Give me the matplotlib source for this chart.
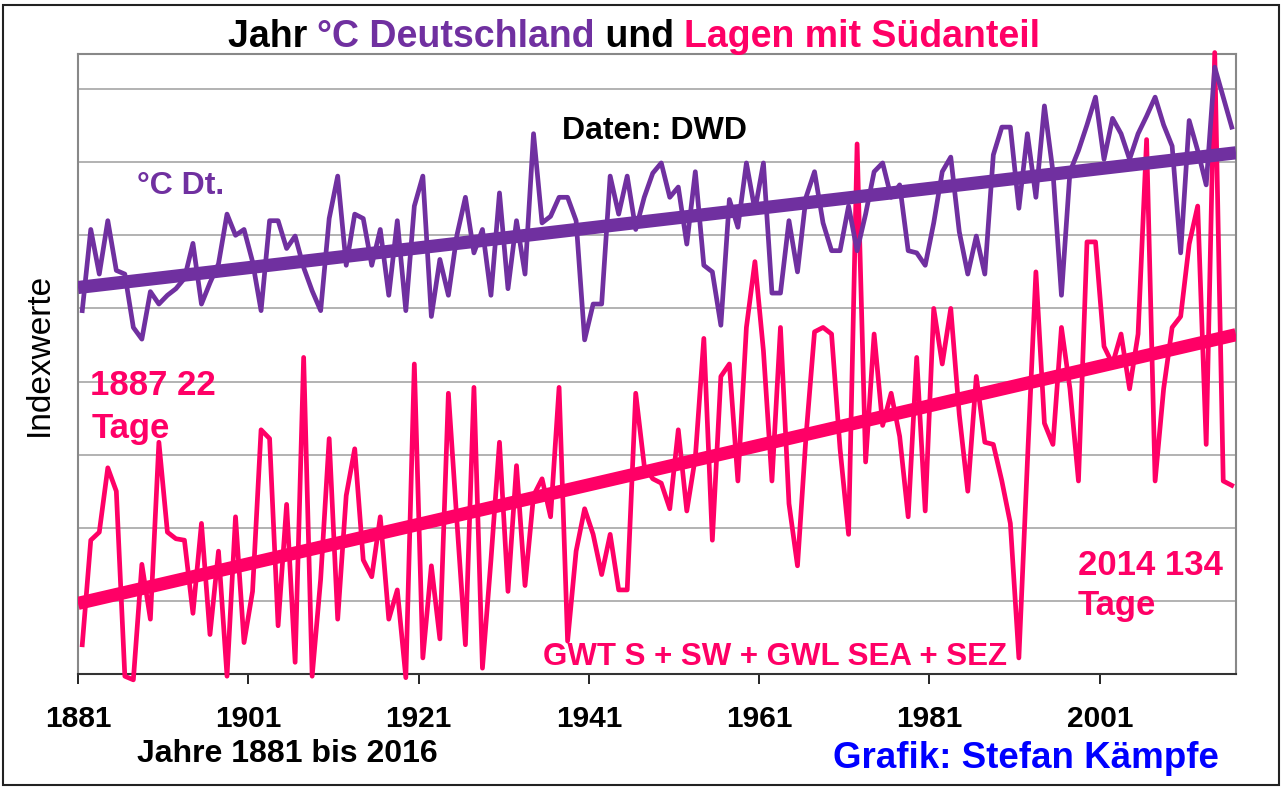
import matplotlib
matplotlib.use("Agg")
import matplotlib.pyplot as plt
from matplotlib.patches import Rectangle
import numpy as np

plt.rcParams['font.family'] = ['Liberation Sans', 'DejaVu Sans']

years = np.arange(1881, 2017)

# Deutschland Jahresmittel (Indexwerte)
temp_idx = [
    4.97, 6.08, 5.47, 6.20, 5.52, 5.47, 4.74, 4.58, 5.23, 5.06,
    5.18, 5.27, 5.41, 5.89, 5.06, 5.35, 5.61, 6.29, 6.00, 6.08,
    5.64, 4.97, 6.20, 6.20, 5.82, 5.99, 5.56, 5.24, 4.97, 6.23,
    6.81, 5.59, 6.29, 6.23, 5.59, 6.08, 5.18, 6.20, 4.97, 6.40,
    6.81, 4.89, 5.67, 5.18, 6.00, 6.52, 5.76, 6.08, 5.18, 6.58,
    5.27, 6.20, 5.47, 7.39, 6.17, 6.26, 6.52, 6.52, 6.20, 4.57,
    5.06, 5.06, 6.81, 6.29, 6.81, 6.08, 6.52, 6.85, 6.99, 6.52,
    6.66, 5.88, 6.87, 5.59, 5.50, 4.77, 6.49, 6.11, 6.99, 6.34,
    6.99, 5.21, 5.21, 6.20, 5.50, 6.52, 6.87, 6.17, 5.79, 5.79,
    6.40, 5.79, 6.29, 6.87, 6.99, 6.52, 6.69, 5.79, 5.76, 5.59,
    6.17, 6.87, 7.07, 6.05, 5.47, 5.99, 5.47, 7.10, 7.48, 7.48,
    6.37, 7.39, 6.52, 7.77, 6.87, 5.18, 6.87, 7.16, 7.51, 7.89,
    7.04, 7.60, 7.39, 7.04, 7.39, 7.63, 7.89, 7.51, 7.22, 5.76,
    7.57, 7.16, 6.69, 8.30, 7.89, 7.48,
]

# Lagen mit Suedanteil (Indexwerte)
sued_idx = [
    0.40, 1.83, 1.94, 2.82, 2.50, -0.03, -0.08, 1.50, 0.75, 3.17,
    1.94, 1.85, 1.83, 0.83, 2.06, 0.54, 1.68, -0.03, 2.15, 0.43,
    1.13, 3.34, 3.22, 0.66, 2.32, 0.16, 4.33, -0.03, 1.30, 3.22,
    0.75, 2.44, 3.08, 1.56, 1.33, 2.15, 0.75, 1.15, -0.05, 4.24,
    0.22, 1.48, 0.48, 3.84, 2.09, 0.40, 3.92, 0.08, 1.56, 3.17,
    1.13, 2.85, 1.21, 2.44, 2.67, 2.15, 3.92, 0.45, 1.68, 2.26,
    1.91, 1.36, 1.91, 1.15, 1.15, 3.84, 2.85, 2.67, 2.61, 2.26,
    3.34, 2.23, 2.96, 4.59, 1.83, 4.07, 4.24, 2.64, 4.74, 5.64,
    4.42, 2.64, 4.74, 2.33, 1.48, 3.25, 4.68, 4.74, 4.65, 3.08,
    1.91, 7.25, 2.90, 4.65, 3.40, 3.84, 3.25, 2.15, 4.33, 2.23,
    5.00, 4.24, 5.00, 3.55, 2.50, 4.07, 3.17, 3.14, 2.64, 2.06,
    0.22, 2.90, 5.50, 3.43, 3.14, 4.74, 3.90, 2.64, 5.91, 5.91,
    4.48, 4.24, 4.65, 3.90, 4.65, 7.31, 2.64, 3.90, 4.74, 4.89,
    5.88, 6.40, 3.14, 8.50, 2.64, 2.58,
]

tick_years = [1881, 1901, 1921, 1941, 1961, 1981, 2001]

purple = '#7030A0'
pink = '#FF0066'

W, H = 1282, 787
fig = plt.figure(figsize=(W / 100, H / 100), dpi=100)
ax = fig.add_axes([78 / W, 1 - 674 / H, (1236 - 78) / W, (674 - 54) / H])

x0, x1 = 1880.5, 2016.5
ax.set_xlim(x0, x1)
ax.set_ylim(0, 8.48)

ax.set_yticks(range(0, 9))
ax.yaxis.grid(True, color='#a6a6a6', linewidth=1.2)
ax.set_axisbelow(True)
ax.tick_params(axis='y', length=0, labelleft=False)

ax.set_xticks([y - 0.5 for y in tick_years])
ax.set_xticklabels([str(y) for y in tick_years], fontsize=21.5, fontweight='bold')
ax.tick_params(axis='x', direction='out', length=7, width=1.2, pad=15, color='black')

for s in ['left', 'top', 'right']:
    ax.spines[s].set_color('#888888')
    ax.spines[s].set_linewidth(1.5)
ax.spines['bottom'].set_color('#333333')
ax.spines['bottom'].set_linewidth(1.5)

# data lines + linear trends
ax.plot(years, sued_idx, color=pink, lw=3.4, solid_joinstyle='round', clip_on=False, zorder=3)
p = np.polyfit(years, sued_idx, 1)
xx = np.array([x0, x1])
ax.plot(xx, np.polyval(p, xx), color=pink, lw=9.5, solid_capstyle='butt', zorder=4)

ax.plot(years, temp_idx, color=purple, lw=3.4, solid_joinstyle='round', zorder=5)
q = np.polyfit(years, temp_idx, 1)
ax.plot(xx, np.polyval(q, xx), color=purple, lw=9.5, solid_capstyle='butt', zorder=6)

ax.set_ylabel('Indexwerte', fontsize=24, labelpad=17)
ax.yaxis.label.set_y(0.515)


def ftext(px, py, s, **kw):
    return fig.text(px / W, 1 - py / H, s, va='baseline', fontweight='bold', **kw)


ftext(562, 139, 'Daten: DWD', fontsize=23, color='black')
ftext(137, 194, '°C Dt.', fontsize=23, color=purple)
ftext(90, 395, '1887 22', fontsize=25, color=pink)
ftext(92, 438, 'Tage', fontsize=25, color=pink)
ftext(1078, 575, '2014 134', fontsize=25, color=pink)
ftext(1078, 615, 'Tage', fontsize=25, color=pink)
ftext(543, 665, 'GWT S + SW + GWL SEA + SEZ', fontsize=22.5, color=pink)
ftext(137, 762, 'Jahre 1881 bis 2016', fontsize=23, color='black')
ftext(833, 768, 'Grafik: Stefan Kämpfe', fontsize=26.5, color='#0000FF')

# title in several colours
parts = [('Jahr ', 'black'), ('°C Deutschland', purple), (' und ', 'black'),
         ('Lagen mit Südanteil', pink)]
texts = [ftext(0, 47, s, fontsize=27, color=c) for s, c in parts]
fig.canvas.draw()
r = fig.canvas.get_renderer()
widths = [t.get_window_extent(r).width for t in texts]
left = 634 - sum(widths) / 2
for t, w in zip(texts, widths):
    t.set_x(left / W)
    left += w

# outer frame
fig.patches.append(Rectangle((3 / W, 2 / H), (W - 6) / W, (H - 7) / H,
                             transform=fig.transFigure, fill=False,
                             edgecolor='#222222', linewidth=1.5))

fig.savefig('out.png', dpi=100)
